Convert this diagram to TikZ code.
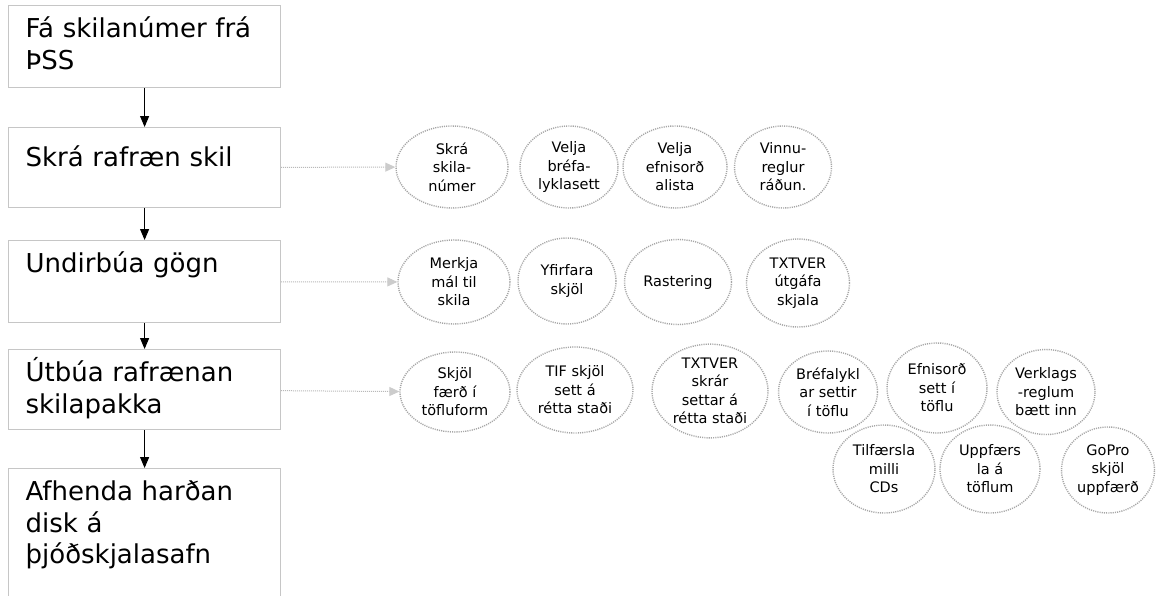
\documentclass[tikz,border=0pt]{standalone}
\usepackage{fontspec}
\newfontfamily\verdfont{DejaVu Sans}
\usetikzlibrary{
  arrows.meta,
  shapes.geometric,
  positioning}

\tikzset{
  stepbox/.style={draw=gray!45, line width=1.2pt, anchor=north west,
    text width=238pt, inner xsep=17pt, inner ysep=12pt, align=left,
    text height=20pt, font=\verdfont\fontsize{26}{31.5}\selectfont},
  task/.style={ellipse, draw=gray!70, dash pattern=on 1.1pt off 1.1pt, line width=1.4pt,
    inner sep=0pt, align=center, font=\verdfont\fontsize{14.5}{18.5}\selectfont},
  flow/.style={-{Triangle[length=11pt,width=9pt]}, line width=1pt},
  link/.style={densely dotted, draw=gray!55, line width=1pt,
    -{Triangle[length=10pt,width=9pt,color=gray!40]}}
}

\begin{document}
\begin{tikzpicture}[x=1pt,y=-1pt]
        \path[use as bounding box, fill=white] (0,0) rectangle (1157,595);

        % vinnuskref
        \node[stepbox, text depth=38pt] (fa) at (8,5) {Fá skilanúmer frá\\ÞSS};
        \node[stepbox, text height=27pt, text depth=29pt] (skra) at (8,127) {Skrá rafræn skil};
        \node[stepbox, text depth=38pt] (undir) at (8,240) {Undirbúa gögn};
        \node[stepbox, text depth=36pt] (utbua) at (8,349) {Útbúa rafrænan\\skilapakka};
        \node[stepbox, text depth=100pt] (afh) at (8,468) {Afhenda harðan\\disk á\\þjóðskjalasafn};

        \draw[flow] (fa) -- (skra);
        \draw[flow] (skra) -- (undir);
        \draw[flow] (undir) -- (utbua);
        \draw[flow] (utbua) -- (afh);

        % verkþættir
        \node[task, minimum width=112pt, minimum height=82pt] (skrnum) at (452,167) {Skrá\\skila-\\númer};
        \node[task, minimum width=98pt, minimum height=82pt] (brefa) at (569,167) {Velja\\bréfa-\\lyklasett};
        \node[task, minimum width=104pt, minimum height=82pt] (efni) at (675,167) {Velja\\efnisorð\\alista};
        \node[task, minimum width=97pt, minimum height=82pt] (vinnu) at (783,167) {Vinnu-\\reglur\\ráðun.};

        \node[task, minimum width=112pt, minimum height=84pt] (merkja) at (454,282) {Merkja\\mál til\\skila};
        \node[task, minimum width=98pt, minimum height=86pt] (yfirfara) at (567,281) {Yfirfara\\skjöl};
        \node[task, minimum width=107pt, minimum height=85pt] (raster) at (678,282) {Rastering};
        \node[task, minimum width=103pt, minimum height=88pt] (txtutg) at (798,283) {TXTVER\\útgáfa\\skjala};

        \node[task, minimum width=110pt, minimum height=80pt] (toflu) at (455,392) {Skjöl\\færð í\\töfluform};
        \node[task, minimum width=116pt, minimum height=86pt] (tif) at (575,390) {TIF skjöl\\sett á\\rétta staði};
        \node[task, minimum width=116pt, minimum height=90pt] (txtskr) at (710,391) {TXTVER\\skrár\\settar á\\rétta staði};
        \node[task, minimum width=99pt, minimum height=82pt] (brefsett) at (828,392) {Bréfalykl\\ar settir\\í töflu};
        \node[task, minimum width=100pt, minimum height=90pt] (efnisett) at (937,388) {Efnisorð\\sett í\\töflu};
        \node[task, minimum width=98pt, minimum height=85pt] (verklag) at (1046,392) {Verklags\\-reglum\\bætt inn};
        \node[task, minimum width=102pt, minimum height=88pt] (tilf) at (884,469) {Tilfærsla\\milli\\CDs};
        \node[task, minimum width=100pt, minimum height=88pt] (uppf) at (990,469) {Uppfærs\\la á\\töflum};
        \node[task, minimum width=93pt, minimum height=86pt] (gopro) at (1108,470) {GoPro\\skjöl\\uppfærð};

        \draw[link] (skra) -- (skrnum);
        \draw[link] (undir) -- (merkja);
        \draw[link] (utbua) -- (toflu);
    \end{tikzpicture}
\end{document}
